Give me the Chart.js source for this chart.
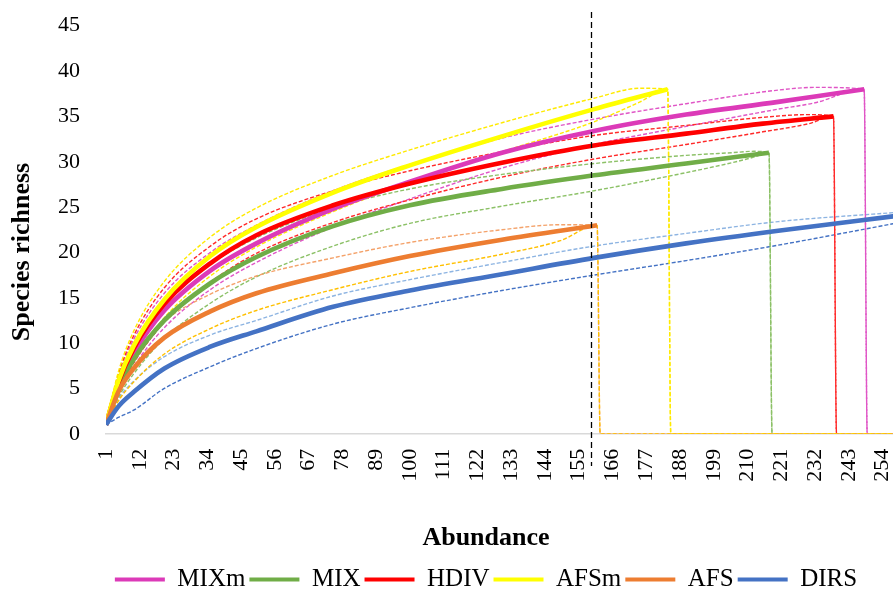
<!DOCTYPE html>
<html>
<head>
<meta charset="utf-8">
<script src="https://cdn.jsdelivr.net/npm/chart.js@4.4.1/dist/chart.umd.min.js"></script>
<style>
  html, body { margin: 0; padding: 0; overflow: hidden; background: #ffffff; }
  #wrap { width: 992px; height: 594px; }
</style>
</head>
<body>
<div id="wrap"><canvas id="chart" width="992" height="594"></canvas></div>
<script>
// Rarefaction curves: species richness vs. abundance, with 95% confidence bounds

const seriesNames = ['MIXm', 'MIX', 'HDIV', 'AFSm', 'AFS', 'DIRS'];

// Abundance tick labels on the x axis
const abundanceTicks = [1, 12, 23, 34, 45, 56, 67, 78, 89, 100, 111, 122, 133, 144, 155,
  166, 177, 188, 199, 210, 221, 232, 243, 254, 265, 276];
const abundanceMax = 283;
const referenceAbundance = 159;   // common sample size marker (dashed line)

// MIXm: estimate, then lower / upper bounds
const xMIXm   = [1, 5, 10, 20, 35, 50, 75, 100, 130, 160, 190, 220, 232, 248];
const sMIXm   = [1, 5.4, 8.9, 13.6, 18.0, 21.0, 24.8, 27.8, 31.0, 33.4, 35.2, 36.6, 37.2, 38];
const bxMIXm  = [1, 5, 10, 20, 35, 50, 75, 100, 130, 160, 190, 220, 232, 248];
const hiMIXm  = [1, 6.3, 10.4, 15.5, 20.0, 23.0, 26.8, 29.7, 32.6, 34.7, 36.4, 37.9, 38.2, 38];
const loMIXm  = [1, 4.4, 7.4, 11.7, 15.9, 18.9, 22.8, 25.9, 29.3, 31.9, 33.9, 35.8, 36.5, 38];

// MIX
const xMIX    = [1, 5, 10, 20, 35, 50, 75, 100, 130, 160, 190, 217];
const sMIX    = [1, 5.0, 8.2, 12.5, 16.6, 19.5, 22.9, 25.2, 27.0, 28.5, 29.8, 31.0];
const bxMIX   = [1, 5, 10, 20, 35, 50, 75, 100, 130, 160, 190, 205, 212, 217];
const hiMIX   = [1, 6.0, 9.8, 14.5, 18.7, 21.6, 24.9, 27.0, 28.6, 29.8, 30.7, 31.0, 31.15, 31];
const loMIX   = [1, 4.0, 6.6, 10.5, 14.4, 17.3, 20.7, 23.2, 25.1, 26.8, 28.8, 29.9, 30.5, 31];

// HDIV
const xHDIV   = [1, 5, 10, 20, 35, 50, 75, 100, 130, 160, 190, 215, 238];
const sHDIV   = [1, 5.6, 9.4, 14.3, 18.8, 21.9, 25.2, 27.6, 29.9, 31.8, 33.1, 34.2, 35];
const bxHDIV  = [1, 5, 10, 20, 35, 50, 75, 100, 130, 160, 190, 215, 230, 238];
const hiHDIV  = [1, 6.5, 10.8, 16.1, 20.7, 23.7, 26.8, 29.0, 31.1, 32.9, 34.0, 34.9, 35.2, 35];
const loHDIV  = [1, 4.6, 7.8, 12.3, 16.7, 19.9, 23.3, 25.8, 28.3, 30.3, 31.9, 33.3, 34.2, 35];

// AFSm
const xAFSm   = [1, 5, 10, 20, 35, 50, 75, 100, 130, 160, 184];
const sAFSm   = [1, 5.8, 9.7, 14.8, 19.6, 22.8, 26.6, 29.6, 32.8, 35.8, 38];
const bxAFSm  = [1, 5, 10, 20, 35, 50, 75, 100, 130, 160, 175, 184];
const hiAFSm  = [1, 6.8, 11.3, 16.8, 21.7, 24.9, 28.5, 31.3, 34.3, 37.0, 38.1, 38];
const loAFSm  = [1, 4.8, 8.1, 12.8, 17.4, 20.6, 24.5, 27.7, 31.1, 34.4, 36.6, 38];

// AFS
const xAFS    = [1, 5, 10, 20, 35, 50, 75, 100, 130, 161];
const sAFS    = [1, 4.6, 7.2, 10.6, 13.5, 15.5, 17.7, 19.6, 21.4, 23.0];
const bxAFS   = [1, 5, 10, 20, 35, 50, 75, 100, 130, 149, 161];
const hiAFS   = [1, 5.6, 8.7, 12.4, 15.4, 17.4, 19.4, 21.1, 22.5, 23.05, 23];
const loAFS   = [1, 3.6, 5.7, 8.8, 11.6, 13.6, 15.9, 17.9, 19.8, 21.3, 23];

// DIRS (continues past the right edge of the plot)
const xDIRS   = [1, 5, 10, 20, 35, 50, 75, 100, 130, 160, 190, 220, 258];
const sDIRS   = [1, 3.0, 4.6, 7.2, 9.6, 11.3, 14.0, 15.8, 17.6, 19.4, 21.0, 22.4, 24.0];
const bxDIRS  = [1, 5, 10, 20, 35, 50, 75, 100, 130, 160, 190, 220, 258];
const hiDIRS  = [1, 3.8, 5.8, 8.5, 10.9, 12.5, 15.2, 17.0, 18.9, 20.7, 22.1, 23.4, 24.4];
const loDIRS  = [1, 1.8, 2.6, 5.0, 7.4, 9.4, 12.1, 13.9, 15.8, 17.5, 19.1, 20.8, 23.2];

const FONT = "'Liberation Serif', 'Times New Roman', serif";

function pts(xs, ys) { return xs.map((x, i) => ({ x, y: ys[i] })); }
// a bound falls to zero once the sample is exhausted, as the spreadsheet series do
function boundPts(xs, ys) {
  const last = xs[xs.length - 1];
  return pts(xs, ys).concat([{ x: last + 1, y: 0 }, { x: abundanceMax, y: 0 }]);
}

const groups = [
  { name: 'MIXm', x: xMIXm, s: sMIXm, bx: bxMIXm, hi: hiMIXm, lo: loMIXm, color: '#DC3AB8', hiColor: '#E055C6', loColor: '#E055C6', ends: true },
  { name: 'MIX',  x: xMIX,  s: sMIX,  bx: bxMIX,  hi: hiMIX,  lo: loMIX,  color: '#70AD47', hiColor: '#8CC167', loColor: '#8CC167', ends: true },
  { name: 'HDIV', x: xHDIV, s: sHDIV, bx: bxHDIV, hi: hiHDIV, lo: loHDIV, color: '#FF0000', hiColor: '#FF2A2A', loColor: '#FF2A2A', ends: true },
  { name: 'AFSm', x: xAFSm, s: sAFSm, bx: bxAFSm, hi: hiAFSm, lo: loAFSm, color: '#FFFF00', hiColor: '#FFEA00', loColor: '#FFEA00', ends: true },
  { name: 'AFS',  x: xAFS,  s: sAFS,  bx: bxAFS,  hi: hiAFS,  lo: loAFS,  color: '#ED7D31', hiColor: '#F4A26A', loColor: '#FFC000', ends: true },
  { name: 'DIRS', x: xDIRS, s: sDIRS, bx: bxDIRS, hi: hiDIRS, lo: loDIRS, color: '#4472C4', hiColor: '#8DB4E2', loColor: '#4472C4', ends: false }
];

const datasets = [];
// main curves first so the legend follows this order
groups.forEach((g, i) => {
  datasets.push({
    label: g.name,
    data: pts(g.x, g.s),
    borderColor: g.color,
    backgroundColor: g.color,
    borderWidth: 4.6,
    pointRadius: 0,
    cubicInterpolationMode: 'monotone',
    order: -i,
    isMain: true
  });
});
// confidence bounds (drawn underneath); AFS bounds placed first so they sit on top at zero
const boundOrder = [4, 3, 1, 2, 0, 5];
boundOrder.forEach((gi, k) => {
  const g = groups[gi];
  const mk = (ys, color, lvl) => ({
    label: g.name + lvl,
    data: g.ends ? boundPts(g.bx, ys) : pts(g.bx, ys),
    borderColor: color,
    backgroundColor: color,
    borderWidth: 1.4,
    borderDash: [4, 2],
    pointRadius: 0,
    cubicInterpolationMode: 'monotone',
    order: 10 + k,
    isMain: false
  });
  datasets.push(mk(g.lo, g.loColor, ' LCL'));
  datasets.push(mk(g.hi, g.hiColor, ' UCL'));
});

// dashed vertical marker at the reference sample size
const refLine = {
  id: 'refLine',
  afterDatasetsDraw(chart) {
    const x = Math.round(chart.scales.x.getPixelForValue(referenceAbundance)) + 0.5;
    const ctx = chart.ctx;
    ctx.save();
    ctx.strokeStyle = '#000000';
    ctx.lineWidth = 1.3;
    ctx.setLineDash([6, 4]);
    ctx.beginPath();
    ctx.moveTo(x, 12);
    ctx.lineTo(x, 466);
    ctx.stroke();
    ctx.restore();
  }
};

// vertical axis title, centred a little below the middle of the plot
const yTitle = {
  id: 'yTitle',
  afterDraw(chart) {
    const ctx = chart.ctx;
    ctx.save();
    ctx.translate(22, 252);
    ctx.rotate(-Math.PI / 2);
    ctx.fillStyle = '#000000';
    ctx.font = "bold 26px " + FONT;
    ctx.textAlign = 'center';
    ctx.textBaseline = 'middle';
    ctx.fillText('Species richness', 0, 0);
    ctx.restore();
  }
};

new Chart(document.getElementById('chart'), {
  type: 'line',
  data: { datasets },
  plugins: [refLine, yTitle],
  options: {
    responsive: false,
    animation: false,
    devicePixelRatio: 1,
    layout: { padding: { top: 0, right: 20, bottom: -8, left: 0 } },
    scales: {
      x: {
        type: 'linear',
        min: 1,
        max: abundanceMax,
        afterBuildTicks(scale) { scale.ticks = abundanceTicks.map(v => ({ value: v })); },
        afterFit(scale) { scale.height = 84.5; },
        grid: { display: false, drawTicks: false },
        border: { display: true, color: '#D9D9D9', width: 1.6 },
        ticks: {
          autoSkip: false,
          minRotation: 90,
          maxRotation: 90,
          padding: 15,
          color: '#000000',
          font: { family: FONT, size: 22 },
          callback: v => String(v)
        }
      },
      y: {
        min: 0,
        max: 45,
        afterFit(scale) { scale.width = 106; },
        grid: {
          display: true,
          drawOnChartArea: false,
          drawTicks: true,
          tickLength: 13.5,
          tickColor: 'rgba(0,0,0,0)'
        },
        border: { display: false },
        ticks: {
          stepSize: 5,
          padding: 12.5,
          color: '#000000',
          font: { family: FONT, size: 22 }
        }
      }
    },
    plugins: {
      tooltip: { enabled: false },
      title: {
        display: true,
        text: 'Abundance',
        position: 'bottom',
        color: '#000000',
        font: { family: FONT, size: 26, weight: 'bold' },
        padding: { top: 4, bottom: 9.5 }
      },
      legend: {
        position: 'bottom',
        weight: 3000,
        labels: {
          color: '#000000',
          font: { family: FONT, size: 25 },
          boxWidth: 50,
          boxHeight: 4,
          padding: 4,
          sort: (a, b) => a.datasetIndex - b.datasetIndex,
          filter: (item, data) => data.datasets[item.datasetIndex].isMain,
          generateLabels(chart) {
            const items = Chart.defaults.plugins.legend.labels.generateLabels(chart);
            return items.map(it => Object.assign({}, it, { fillStyle: it.strokeStyle, lineWidth: 0, lineDash: [] }));
          }
        }
      }
    }
  }
});
</script>
</body>
</html>
